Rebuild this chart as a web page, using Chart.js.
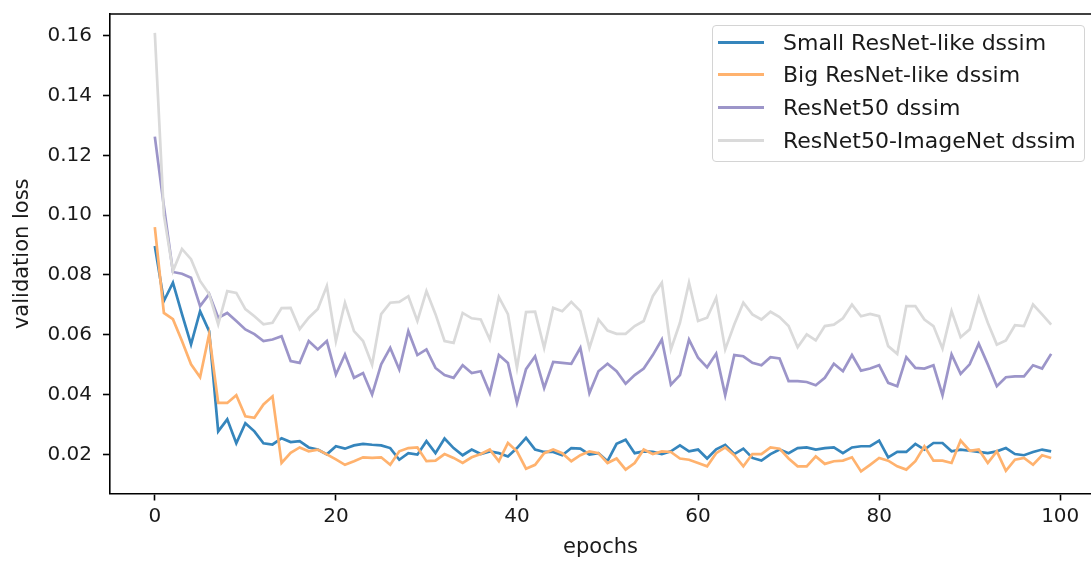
<!DOCTYPE html>
<html>
<head>
<meta charset="utf-8">
<script src="https://cdn.jsdelivr.net/npm/chart.js@4.4.1/dist/chart.umd.min.js"></script>
<style>
  html, body { margin: 0; padding: 0; background: #fff; }
  #wrap { position: relative; width: 1091px; height: 563px; }
  #legend {
    position: absolute; left: 712px; top: 25px; width: 373px; height: 137px;
    box-sizing: border-box; border: 1px solid #d4d4d4; border-radius: 4px;
    background: rgba(255, 255, 255, 0.8);
    font-family: "DejaVu Sans", sans-serif; font-size: 22px; color: #1a1a1a;
  }
  .row { display: flex; align-items: center; height: 32.6px; white-space: nowrap; }
  .swatch { width: 46px; height: 3px; margin-left: 5px; margin-right: 19px; }
</style>
</head>
<body>
<div id="wrap">
  <canvas id="lossChart" width="1091" height="563"></canvas>
  <div id="legend"></div>
</div>
<script>
const epochs = Array.from({ length: 100 }, (_, i) => i);
const xTicks = [0, 20, 40, 60, 80, 100];
const yTicks = [0.02, 0.04, 0.06, 0.08, 0.10, 0.12, 0.14, 0.16];

const smallResnet = [
  0.0897, 0.0713, 0.0774, 0.0669, 0.0568, 0.0679, 0.0612, 0.0277, 0.0317, 0.0237,
  0.0304, 0.0277, 0.0237, 0.0233, 0.0254, 0.0241, 0.0244, 0.0223, 0.0216, 0.0200,
  0.0227, 0.0219, 0.0230, 0.0235, 0.0232, 0.0230, 0.0221, 0.0182, 0.0204, 0.0199,
  0.0244, 0.0204, 0.0253, 0.0221, 0.0197, 0.0216, 0.0201, 0.0210, 0.0204, 0.0193,
  0.0221, 0.0255, 0.0216, 0.0208, 0.0208, 0.0197, 0.0221, 0.0219, 0.0199, 0.0204,
  0.0177, 0.0235, 0.0249, 0.0204, 0.0210, 0.0208, 0.0201, 0.0210, 0.0230, 0.0210,
  0.0216, 0.0186, 0.0217, 0.0232, 0.0201, 0.0219, 0.0188, 0.0179, 0.0201, 0.0216,
  0.0204, 0.0221, 0.0223, 0.0216, 0.0221, 0.0223, 0.0204, 0.0223, 0.0227, 0.0227,
  0.0246, 0.0190, 0.0208, 0.0208, 0.0235, 0.0216, 0.0238, 0.0238, 0.0210, 0.0216,
  0.0212, 0.0208, 0.0204, 0.0210, 0.0221, 0.0201, 0.0197, 0.0208, 0.0216, 0.0210
];

const bigResnet = [
  0.0960, 0.0673, 0.0652, 0.0579, 0.0501, 0.0458, 0.0602, 0.0372, 0.0372, 0.0398,
  0.0327, 0.0322, 0.0367, 0.0394, 0.0171, 0.0205, 0.0223, 0.0210, 0.0216, 0.0200,
  0.0183, 0.0165, 0.0177, 0.0190, 0.0188, 0.0190, 0.0165, 0.0210, 0.0221, 0.0223,
  0.0177, 0.0179, 0.0201, 0.0188, 0.0171, 0.0190, 0.0201, 0.0216, 0.0177, 0.0238,
  0.0210, 0.0152, 0.0165, 0.0204, 0.0216, 0.0204, 0.0177, 0.0197, 0.0210, 0.0204,
  0.0171, 0.0186, 0.0149, 0.0171, 0.0216, 0.0201, 0.0210, 0.0208, 0.0186, 0.0182,
  0.0171, 0.0160, 0.0204, 0.0223, 0.0197, 0.0160, 0.0201, 0.0201, 0.0223, 0.0219,
  0.0186, 0.0160, 0.0160, 0.0193, 0.0168, 0.0177, 0.0179, 0.0190, 0.0143, 0.0165,
  0.0188, 0.0179, 0.0160, 0.0149, 0.0177, 0.0227, 0.0179, 0.0179, 0.0171, 0.0246,
  0.0212, 0.0216, 0.0171, 0.0210, 0.0145, 0.0182, 0.0188, 0.0165, 0.0197, 0.0188
];

const resnet50 = [
  0.1263, 0.1030, 0.0810, 0.0804, 0.0791, 0.0696, 0.0736, 0.0657, 0.0673, 0.0646,
  0.0618, 0.0602, 0.0579, 0.0584, 0.0595, 0.0512, 0.0506, 0.0579, 0.0551, 0.0579,
  0.0467, 0.0534, 0.0456, 0.0472, 0.0400, 0.0501, 0.0556, 0.0484, 0.0612, 0.0532,
  0.0551, 0.0489, 0.0465, 0.0456, 0.0498, 0.0472, 0.0478, 0.0405, 0.0532, 0.0506,
  0.0372, 0.0485, 0.0528, 0.0422, 0.0509, 0.0506, 0.0503, 0.0556, 0.0405, 0.0478,
  0.0503, 0.0478, 0.0436, 0.0465, 0.0487, 0.0532, 0.0584, 0.0433, 0.0465, 0.0584,
  0.0523, 0.0491, 0.0537, 0.0398, 0.0532, 0.0528, 0.0506, 0.0498, 0.0525, 0.0521,
  0.0445, 0.0445, 0.0442, 0.0431, 0.0456, 0.0503, 0.0478, 0.0532, 0.0480, 0.0487,
  0.0498, 0.0439, 0.0428, 0.0525, 0.0489, 0.0487, 0.0498, 0.0398, 0.0534, 0.0469,
  0.0501, 0.0570, 0.0501, 0.0428, 0.0458, 0.0461, 0.0461, 0.0498, 0.0487, 0.0536
];

const resnet50Imagenet = [
  0.1610, 0.1000, 0.0813, 0.0887, 0.0853, 0.0780, 0.0736, 0.0635, 0.0746, 0.0740,
  0.0686, 0.0662, 0.0635, 0.0640, 0.0689, 0.0690, 0.0619, 0.0657, 0.0686, 0.0763,
  0.0579, 0.0707, 0.0612, 0.0579, 0.0500, 0.0669, 0.0707, 0.0710, 0.0729, 0.0646,
  0.0746, 0.0669, 0.0579, 0.0573, 0.0673, 0.0655, 0.0651, 0.0584, 0.0726, 0.0669,
  0.0490, 0.0676, 0.0677, 0.0556, 0.0690, 0.0679, 0.0710, 0.0679, 0.0556, 0.0651,
  0.0614, 0.0603, 0.0603, 0.0629, 0.0646, 0.0729, 0.0774, 0.0551, 0.0640, 0.0774,
  0.0646, 0.0657, 0.0724, 0.0551, 0.0634, 0.0707, 0.0668, 0.0651, 0.0677, 0.0659,
  0.0629, 0.0558, 0.0601, 0.0581, 0.0629, 0.0634, 0.0655, 0.0701, 0.0662, 0.0670,
  0.0662, 0.0562, 0.0536, 0.0696, 0.0696, 0.0651, 0.0629, 0.0554, 0.0679, 0.0592,
  0.0618, 0.0724, 0.0640, 0.0567, 0.0581, 0.0632, 0.0629, 0.0701, 0.0668, 0.0634
];

const FONT = "'DejaVu Sans', sans-serif";

// matplotlib-style top spine (right spine falls outside the picture)
const topSpine = {
  id: "topSpine",
  afterDraw(chart) {
    const { ctx, chartArea } = chart;
    ctx.save();
    ctx.strokeStyle = "#000";
    ctx.lineWidth = 1.6;
    ctx.beginPath();
    ctx.moveTo(chartArea.left, chartArea.top);
    ctx.lineTo(chartArea.right, chartArea.top);
    ctx.stroke();
    ctx.restore();
  }
};

function series(label, data, color, order) {
  return {
    label, data, order,
    borderColor: color,
    backgroundColor: color,
    borderWidth: 2.7,
    pointRadius: 0,
    tension: 0,
    fill: false
  };
}

const chart = new Chart(document.getElementById("lossChart"), {
  type: "line",
  data: {
    labels: epochs,
    datasets: [
      series("Small ResNet-like dssim", smallResnet, "#3585bc", 4),
      series("Big ResNet-like dssim", bigResnet, "#ffb26e", 3),
      series("ResNet50 dssim", resnet50, "#9c95c9", 2),
      series("ResNet50-ImageNet dssim", resnet50Imagenet, "#dadada", 1)
    ]
  },
  options: {
    responsive: false,
    animation: false,
    layout: { padding: { top: 14, right: 0, bottom: 0, left: 0 } },
    plugins: { legend: { display: false }, tooltip: { enabled: false } },
    scales: {
      x: {
        type: "linear",
        min: -4.95,
        max: 103.4,
        afterBuildTicks: (s) => { s.ticks = xTicks.map((v) => ({ value: v })); },
        afterFit: (s) => { s.height = 69.5; s.paddingLeft = 0; s.paddingRight = 0; },
        ticks: { font: { family: FONT, size: 20 }, color: "#1a1a1a", padding: 4, maxRotation: 0 },
        grid: { drawOnChartArea: false, tickLength: 7, tickWidth: 1.6, tickColor: "#000" },
        border: { color: "#000", width: 1.6 },
        title: { display: true, text: "epochs", color: "#1a1a1a", font: { family: FONT, size: 21 }, padding: { top: 0, bottom: 3 } }
      },
      y: {
        min: 0.0069,
        max: 0.1673,
        afterBuildTicks: (s) => { s.ticks = yTicks.map((v) => ({ value: v })); },
        afterFit: (s) => { s.width = 110; s.paddingTop = 0; s.paddingBottom = 0; },
        ticks: { font: { family: FONT, size: 20 }, color: "#1a1a1a", padding: 11, callback: (v) => v.toFixed(2) },
        grid: { drawOnChartArea: false, tickLength: 7, tickWidth: 1.6, tickColor: "#000" },
        border: { color: "#000", width: 1.6 },
        title: { display: true, text: "validation loss", color: "#1a1a1a", font: { family: FONT, size: 21 }, padding: { top: 10, bottom: 0 } }
      }
    }
  },
  plugins: [topSpine]
});

document.getElementById("legend").innerHTML = chart.data.datasets.map((ds) => `
  <div class="row"><span class="swatch" style="background:${ds.borderColor}"></span><span>${ds.label}</span></div>
`).join("");
</script>
</body>
</html>
